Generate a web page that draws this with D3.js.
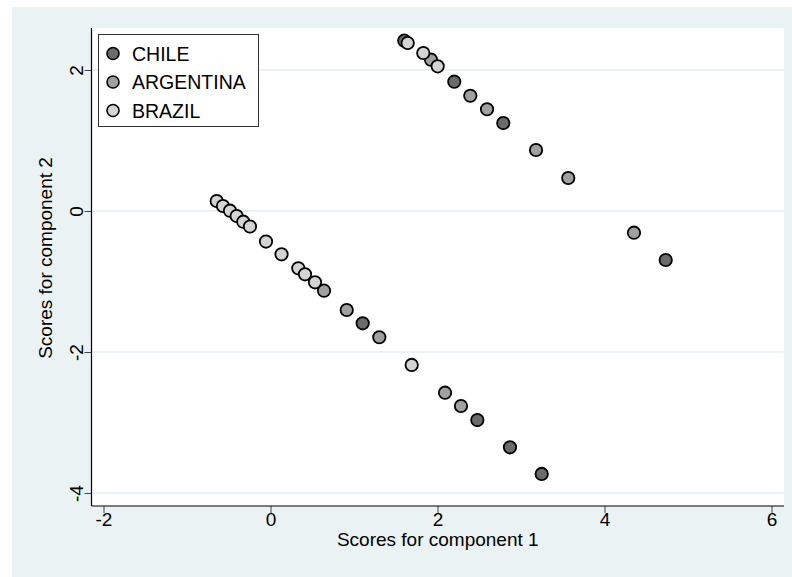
<!DOCTYPE html>
<html><head><meta charset="utf-8">
<script src="https://cdn.jsdelivr.net/npm/d3@7"></script>
<style>html,body{margin:0;padding:0;background:#fff;}svg{display:block;font-family:"Liberation Sans",Arial,sans-serif;}</style>
</head><body>
<svg id="chart" width="792" height="577"></svg>
<script>
const seriesNames = ["CHILE", "ARGENTINA", "BRAZIL"];
const seriesColors = ["#6b6b6b", "#a0a0a0", "#d4d4d4"];
const chileX = [1.602, 2.201, 2.788, 4.733, 1.104, 2.477, 2.868, 3.248];
const chileY = [2.416, 1.834, 1.248, -0.695, -1.593, -2.965, -3.352, -3.730];
const argentinaX = [1.922, 2.393, 2.593, 3.180, 3.566, 4.353, 0.641, 0.913, 1.303, 2.090, 2.281];
const argentinaY = [2.146, 1.635, 1.443, 0.865, 0.468, -0.308, -1.130, -1.404, -1.791, -2.577, -2.766];
const brazilX = [1.643, 1.830, 2.002, -0.644, -0.569, -0.485, -0.405, -0.326, -0.246, -0.054, 0.132, 0.333, 0.413, 0.533, 1.691];
const brazilY = [2.383, 2.241, 2.052, 0.142, 0.071, 0.004, -0.071, -0.152, -0.220, -0.433, -0.614, -0.813, -0.898, -1.011, -2.184];
const xTicks = [-2, 0, 2, 4, 6];
const yTicks = [-4, -2, 0, 2];
const xTitle = "Scores for component 1";
const yTitle = "Scores for component 2";

const svg = d3.select("#chart");
const plotL = 91.5, plotR = 784, plotT = 28, plotB = 506;
const x = d3.scaleLinear().domain([-2, 6]).range([103.5, 771.5]);
const y = d3.scaleLinear().domain([-4, 2]).range([493, 70]);
const fmt = d => String(d);

// outer background
svg.append("rect").attr("x", 12).attr("y", 7).attr("width", 780).attr("height", 570).attr("fill", "#eaf2f3");
// plot region
svg.append("rect").attr("x", plotL).attr("y", plotT).attr("width", plotR - plotL).attr("height", plotB - plotT).attr("fill", "#fff");

// gridlines
svg.append("g").selectAll("line").data(yTicks).join("line")
  .attr("x1", plotL).attr("x2", plotR)
  .attr("y1", d => y(d)).attr("y2", d => y(d))
  .attr("stroke", "#eaf2f3").attr("stroke-width", 2);

// y axis
const yAxis = svg.append("g").attr("transform", `translate(${plotL},0)`)
  .call(d3.axisLeft(y).tickValues(yTicks).tickSize(7).tickFormat(fmt));
yAxis.select(".domain").remove();
yAxis.selectAll(".tick line").attr("stroke", "#444");
yAxis.selectAll(".tick text")
  .attr("font-size", 19).attr("fill", "#000")
  .attr("x", 0).attr("y", 0).attr("dy", null)
  .attr("text-anchor", "middle")
  .attr("transform", "translate(-9,0) rotate(-90)");
svg.append("line").attr("x1", plotL).attr("x2", plotL).attr("y1", plotT).attr("y2", plotB).attr("stroke", "#000").attr("stroke-width", 1.2);

// x axis
const xAxis = svg.append("g").attr("transform", `translate(0,${plotB})`)
  .call(d3.axisBottom(x).tickValues(xTicks).tickSize(7).tickFormat(fmt));
xAxis.select(".domain").remove();
xAxis.selectAll(".tick line").attr("stroke", "#444");
xAxis.selectAll(".tick text").attr("font-size", 19).attr("fill", "#000").attr("y", 20).attr("dy", null);
svg.append("line").attr("x1", plotL).attr("x2", plotR).attr("y1", plotB).attr("y2", plotB).attr("stroke", "#000").attr("stroke-width", 1.2);

// titles
svg.append("text").attr("x", (plotL + plotR) / 2).attr("y", 546).attr("text-anchor", "middle")
  .attr("font-size", 19).text(xTitle);
svg.append("text").attr("transform", "translate(52,258) rotate(-90)").attr("text-anchor", "middle")
  .attr("font-size", 19).text(yTitle);

// points
const series = [
  {name: seriesNames[0], color: seriesColors[0], xs: chileX, ys: chileY},
  {name: seriesNames[1], color: seriesColors[1], xs: argentinaX, ys: argentinaY},
  {name: seriesNames[2], color: seriesColors[2], xs: brazilX, ys: brazilY}
];
series.forEach(s => {
  const pts = s.xs.map((v, i) => [v, s.ys[i]]);
  svg.append("g").selectAll("circle").data(pts).join("circle")
    .attr("cx", d => x(d[0])).attr("cy", d => y(d[1])).attr("r", 6.2)
    .attr("fill", s.color).attr("stroke", "#000").attr("stroke-width", 1.8);
});

// legend
const lg = svg.append("g");
lg.append("rect").attr("x", 98.5).attr("y", 34.5).attr("width", 160).attr("height", 92)
  .attr("fill", "#fff").attr("stroke", "#333").attr("stroke-width", 1);
series.forEach((s, i) => {
  const cy = 53.5 + i * 28.5;
  lg.append("circle").attr("cx", 113).attr("cy", cy).attr("r", 6)
    .attr("fill", s.color).attr("stroke", "#000").attr("stroke-width", 1.6);
  lg.append("text").attr("x", 132).attr("y", cy + 7).attr("font-size", 19.5).text(s.name);
});
</script>
</body></html>
